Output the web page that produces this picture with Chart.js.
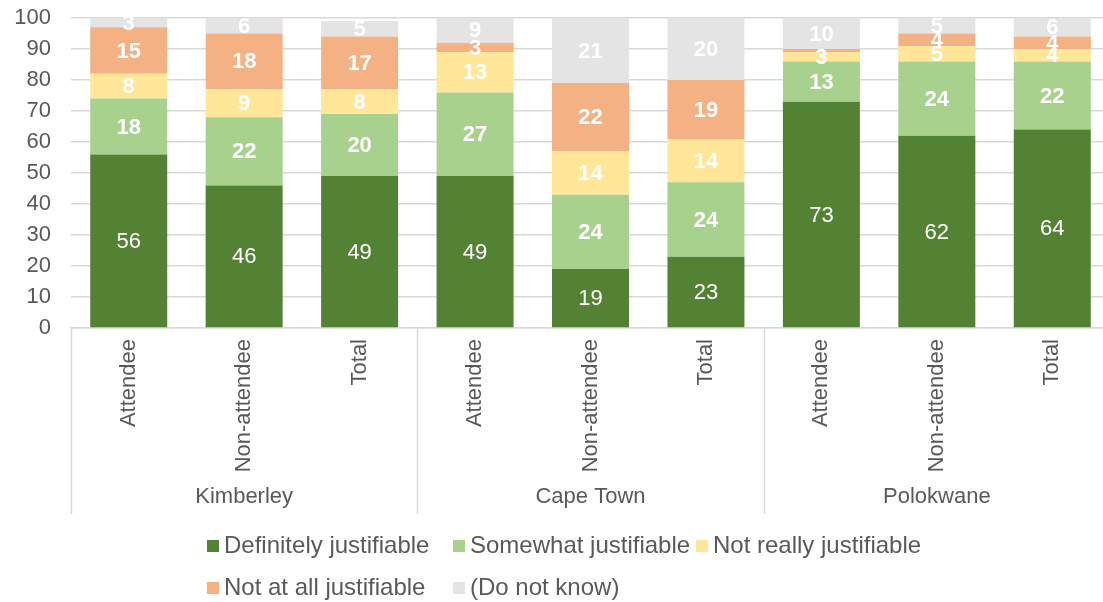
<!DOCTYPE html>
<html>
<head>
<meta charset="utf-8">
<script src="https://cdn.jsdelivr.net/npm/chart.js@4.4.1/dist/chart.umd.min.js"></script>
<style>
  html, body { margin: 0; padding: 0; background: #fff; overflow: hidden; }
  #wrap { width: 1110px; height: 602px; position: relative; }
</style>
</head>
<body>
<div id="wrap"><canvas id="chart"></canvas></div>
<script>
// Categorías: tres ciudades, cada una con tres grupos
const cities = ['Kimberley', 'Cape Town', 'Polokwane'];
const groups = ['Attendee', 'Non-attendee', 'Total'];
const yTicks = [0, 10, 20, 30, 40, 50, 60, 70, 80, 90, 100];

// Porcentajes por serie (orden: Kimberley A/N/T, Cape Town A/N/T, Polokwane A/N/T)
const definitely = [56, 46, 49, 49, 19, 23, 73, 62, 64];
const somewhat   = [18, 22, 20, 27, 24, 24, 13, 24, 22];
const notReally  = [8, 9, 8, 13, 14, 14, 3, 5, 4];
const notAtAll   = [15, 18, 17, 3, 22, 19, 1, 4, 4];
const doNotKnow  = [3, 6, 5, 9, 21, 20, 10, 5, 6];

const seriesNames = ['Definitely justifiable', 'Somewhat justifiable', 'Not really justifiable',
                     'Not at all justifiable', '(Do not know)'];
const seriesData = [definitely, somewhat, notReally, notAtAll, doNotKnow];
const seriesColors = ['#548235', '#A9D18E', '#FFE699', '#F4B183', '#E4E4E4'];

const labels = [];
cities.forEach(() => groups.forEach(g => labels.push(g)));

const FONT = '"Liberation Sans", Arial, sans-serif';
const TEXT = '#595959';
const LINE = '#d9d9d9';

// Etiquetas de valor dentro de cada segmento
const segmentLabels = {
    id: 'segmentLabels',
    afterDatasetsDraw(chart) {
        const ctx = chart.ctx;
        const area = chart.chartArea;
        ctx.save();
        ctx.fillStyle = '#ffffff';
        ctx.textAlign = 'center';
        ctx.textBaseline = 'middle';
        chart.data.datasets.forEach((ds, di) => {
            const meta = chart.getDatasetMeta(di);
            ctx.font = (di === 0 ? '' : 'bold ') + '22px ' + FONT;
            meta.data.forEach((bar, i) => {
                const v = ds.data[i];
                if (v < 2) return;
                const top = Math.max(bar.y, area.top);
                const bottom = Math.min(bar.base, area.bottom);
                if (bottom <= top) return;
                ctx.fillText(String(v), bar.x, (top + bottom) / 2 + 1);
            });
        });
        ctx.restore();
    }
};

// Separadores y nombres de ciudad bajo el eje X
const cityAxis = {
    id: 'cityAxis',
    afterDraw(chart) {
        const ctx = chart.ctx;
        const area = chart.chartArea;
        const x = chart.scales.x;
        const step = (area.right - area.left) / labels.length;
        ctx.save();
        ctx.strokeStyle = LINE;
        ctx.lineWidth = 1.5;
        for (let k = 0; k <= cities.length; k++) {
            const px = Math.round(area.left + k * groups.length * step) + 0.5;
            ctx.beginPath();
            ctx.moveTo(px, area.bottom);
            ctx.lineTo(px, 514);
            ctx.stroke();
        }
        ctx.fillStyle = TEXT;
        ctx.font = '22px ' + FONT;
        ctx.textAlign = 'center';
        ctx.textBaseline = 'middle';
        cities.forEach((c, k) => {
            const cx = x.getPixelForValue(k * groups.length + 1);
            ctx.fillText(c, cx, 497);
        });
        ctx.restore();
    }
};

// Leyenda en dos filas, alineada en columnas
const gridLegend = {
    id: 'gridLegend',
    afterDraw(chart) {
        const ctx = chart.ctx;
        const cols = [207, 453, 696];
        const rows = [546, 588];
        ctx.save();
        ctx.font = '24px ' + FONT;
        ctx.textBaseline = 'middle';
        ctx.textAlign = 'left';
        chart.data.datasets.forEach((ds, i) => {
            const cx = cols[i % 3];
            const cy = rows[Math.floor(i / 3)];
            ctx.fillStyle = ds.backgroundColor;
            ctx.fillRect(cx, cy - 6, 12, 12);
            ctx.fillStyle = TEXT;
            ctx.fillText(ds.label, cx + 17, cy);
        });
        ctx.restore();
    }
};

const ctx = document.getElementById('chart').getContext('2d');

new Chart(ctx, {
    type: 'bar',
    data: {
        labels: labels,
        datasets: seriesNames.map((name, i) => ({
            label: name,
            data: seriesData[i],
            backgroundColor: seriesColors[i],
            borderWidth: 0,
            barPercentage: 0.667,
            categoryPercentage: 1
        }))
    },
    options: {
        responsive: true,
        maintainAspectRatio: false,
        animation: false,
        layout: { padding: { top: 18, right: 0, bottom: 0, left: 0 } },
        plugins: {
            legend: { display: false },
            tooltip: { enabled: false }
        },
        scales: {
            x: {
                stacked: true,
                grid: { display: false, drawTicks: false },
                border: { display: true, color: LINE, width: 1.5 },
                ticks: {
                    color: TEXT,
                    font: { family: FONT, size: 22 },
                    minRotation: 90,
                    maxRotation: 90,
                    padding: 11,
                    autoSkip: false
                },
                afterFit(scale) { scale.height = 274; }
            },
            y: {
                stacked: true,
                min: 0,
                max: 100,
                afterBuildTicks(scale) { scale.ticks = yTicks.map(v => ({ value: v })); },
                grid: { color: LINE, lineWidth: 1.5, drawTicks: false },
                border: { display: false },
                ticks: {
                    color: TEXT,
                    font: { family: FONT, size: 22 },
                    padding: 20
                },
                afterFit(scale) {
                    scale.width = 71;
                    // sin margen extra arriba/abajo por las etiquetas
                    scale.paddingTop = 0;
                    scale.paddingBottom = 0;
                }
            }
        }
    },
    plugins: [segmentLabels, cityAxis, gridLegend]
});
</script>
</body>
</html>
